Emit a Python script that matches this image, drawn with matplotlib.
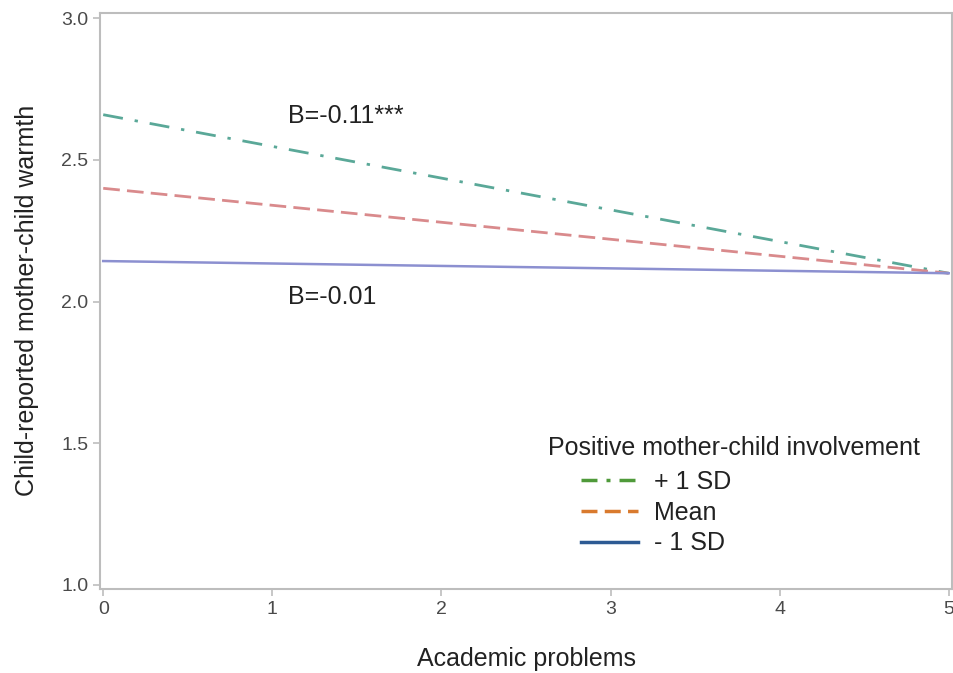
import matplotlib.pyplot as plt
from matplotlib.lines import Line2D

plt.rcParams['font.family'] = ['Liberation Sans', 'DejaVu Sans']

# Simple slopes: warmth predicted at academic problems 0 and 5
x = [0, 5]
plus_sd = [2.66, 2.10]
mean = [2.40, 2.10]
minus_sd = [2.143, 2.10]

series_labels = ['+ 1 SD', 'Mean', '- 1 SD']
legend_title = 'Positive mother-child involvement'
slope_labels = ['B=-0.11***', 'B=-0.01']

fig = plt.figure(figsize=(9.54, 6.73), dpi=100)
ax = fig.add_axes([0.105, 0.125, 0.893, 0.856])

# plotted lines (pale colours)
ax.plot(x, plus_sd, color='#5aa898', lw=2, dashes=(7.2, 4.3, 1.2, 4.3))
ax.plot(x, mean, color='#d98a8c', lw=2, dashes=(6, 2.6))
ax.plot(x, minus_sd, color='#8c90d0', lw=1.8)

ax.text(1.095, 2.657, slope_labels[0], fontsize=18, va='center', color='#222222')
ax.text(1.095, 2.015, slope_labels[1], fontsize=18, va='center', color='#222222')

ax.set_xlim(-0.018, 5.02)
ax.set_ylim(0.985, 3.02)
ax.set_xticks([0, 1, 2, 3, 4, 5])
ax.set_yticks([1.0, 1.5, 2.0, 2.5, 3.0])
ax.set_yticklabels(['1.0', '1.5', '2.0', '2.5', '3.0'])

for sp in ax.spines.values():
    sp.set_color('#bdbdbd')
    sp.set_linewidth(1.5)
ax.tick_params(colors='#bdbdbd', labelcolor='#4a4a4a', labelsize=14, length=5, width=1.2)

ax.set_xlabel('Academic problems', fontsize=18, color='#222222', labelpad=21)
ax.set_ylabel('Child-reported mother-child warmth', fontsize=18, color='#222222', labelpad=16)

# legend uses stronger colours than the lines; title drawn separately (not indented)
fig.text(548 / 954, 1 - 448 / 673, legend_title, fontsize=18, va='center', color='#222222')
handles = [
    Line2D([], [], color='#4f9a3a', lw=2.5, dashes=(4.6, 2.6, 1.15, 2.6)),
    Line2D([], [], color='#d97a2e', lw=2.5, dashes=(4.6, 2.1)),
    Line2D([], [], color='#2d5a93', lw=2.5),
]
leg = fig.legend(handles, series_labels, loc='upper left',
                 bbox_to_anchor=(581 / 954, 1 - 470 / 673), frameon=False,
                 fontsize=18, handlelength=2.28, handletextpad=0.64,
                 labelspacing=0.27, borderpad=0, borderaxespad=0)
for t in leg.get_texts():
    t.set_color('#222222')

fig.savefig('out.png', dpi=100)
